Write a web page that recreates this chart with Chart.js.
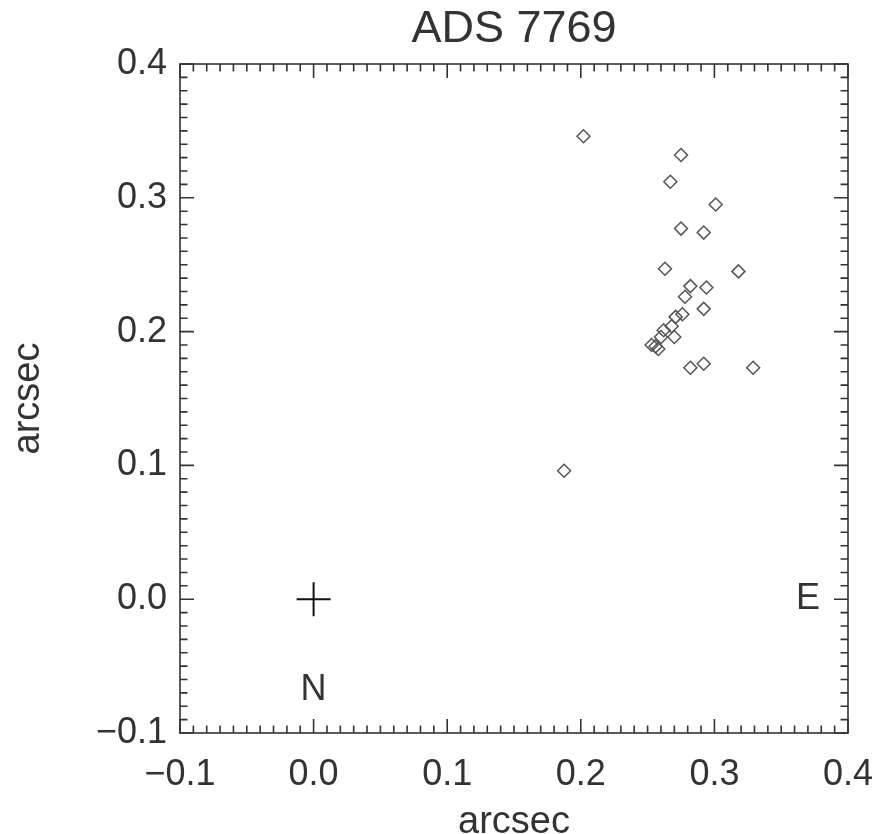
<!DOCTYPE html>
<html>
<head>
<meta charset="utf-8">
<title>ADS 7769</title>
<script src="https://cdn.jsdelivr.net/npm/chart.js@4.4.1/dist/chart.umd.min.js"></script>
<style>
  html, body { margin: 0; padding: 0; background: #fff; }
  #wrap { width: 882px; height: 834px; }
</style>
</head>
<body>
<div id="wrap"><canvas id="orbit" width="882" height="834"></canvas></div>
<script>
// measured positions of the companion (arcsec)
const starX = [0.202, 0.275, 0.267, 0.301, 0.275, 0.292, 0.263, 0.318, 0.282, 0.294,
               0.278, 0.292, 0.276, 0.271, 0.268, 0.262, 0.270, 0.260, 0.253, 0.258,
               0.256, 0.282, 0.292, 0.329, 0.1875];
const starY = [0.346, 0.332, 0.312, 0.295, 0.277, 0.274, 0.247, 0.245, 0.234, 0.233,
               0.226, 0.217, 0.213, 0.211, 0.204, 0.201, 0.196, 0.196, 0.190, 0.187,
               0.189, 0.173, 0.176, 0.173, 0.096];
// primary at origin
const primaryX = [0];
const primaryY = [0];
const tickValues = [-0.1, 0.0, 0.1, 0.2, 0.3, 0.4];
const compass = [{ text: 'N', x: 0.0, y: -0.068 }, { text: 'E', x: 0.37, y: 0.0 }];

const FONT = '"Liberation Sans", "DejaVu Sans", sans-serif';
const INK = '#333';

const fmt = v => (v < 0 ? '\u2212' : '') + Math.abs(v).toFixed(1);
const pts = (xs, ys) => xs.map((x, i) => ({ x: x, y: ys[i] }));

// box, inward ticks on all four sides, title and compass letters
const frame = {
  id: 'frame',
  afterDatasetsDraw(chart) {
    const { ctx, chartArea: a, scales: { x, y } } = chart;
    ctx.save();
    ctx.strokeStyle = '#333';
    ctx.lineWidth = 1.6;
    ctx.strokeRect(a.left, a.top, a.right - a.left, a.bottom - a.top);
    ctx.beginPath();
    for (let i = -10; i <= 40; i++) {
      const len = i % 10 === 0 ? 14 : 7.5;
      const px = x.getPixelForValue(i / 100);
      const py = y.getPixelForValue(i / 100);
      ctx.moveTo(px, a.bottom); ctx.lineTo(px, a.bottom - len);
      ctx.moveTo(px, a.top); ctx.lineTo(px, a.top + len);
      ctx.moveTo(a.left, py); ctx.lineTo(a.left + len, py);
      ctx.moveTo(a.right, py); ctx.lineTo(a.right - len, py);
    }
    ctx.stroke();

    ctx.fillStyle = INK;
    ctx.textAlign = 'center';
    ctx.textBaseline = 'middle';
    ctx.font = '36px ' + FONT;
    compass.forEach(c => {
      ctx.fillText(c.text, x.getPixelForValue(c.x), y.getPixelForValue(c.y));
    });
    ctx.font = '45px ' + FONT;
    ctx.fillText('ADS 7769', (a.left + a.right) / 2, 30);
    ctx.restore();
  }
};

new Chart(document.getElementById('orbit'), {
  type: 'scatter',
  data: {
    datasets: [
      {
        data: pts(starX, starY),
        pointStyle: 'rectRot',
        pointRadius: 6.5,
        pointHoverRadius: 6.5,
        borderColor: '#555',
        borderWidth: 1.5,
        backgroundColor: 'rgba(0,0,0,0)'
      },
      {
        data: pts(primaryX, primaryY),
        pointStyle: 'cross',
        pointRadius: 17,
        pointHoverRadius: 17,
        borderColor: '#111',
        borderWidth: 2
      }
    ]
  },
  options: {
    responsive: false,
    animation: false,
    events: [],
    layout: { padding: { top: 64, right: 34, left: 0, bottom: 0 } },
    plugins: { legend: { display: false }, tooltip: { enabled: false }, title: { display: false } },
    scales: {
      x: {
        type: 'linear', min: -0.1, max: 0.4,
        afterBuildTicks: s => { s.ticks = tickValues.map(v => ({ value: v })); },
        afterFit: s => { s.height = 101; s.paddingLeft = 0; s.paddingRight = 0; },
        grid: { display: false, drawTicks: false },
        border: { display: false },
        ticks: { color: INK, padding: 20, maxRotation: 0, font: { family: FONT, size: 36 }, callback: fmt },
        title: { display: true, text: 'arcsec', color: INK, padding: 0, font: { family: FONT, size: 38, lineHeight: 0.6 } }
      },
      y: {
        type: 'linear', min: -0.1, max: 0.4,
        afterBuildTicks: s => { s.ticks = tickValues.map(v => ({ value: v })); },
        afterFit: s => { s.width = 180; s.paddingTop = 0; s.paddingBottom = 0; },
        grid: { display: false, drawTicks: false },
        border: { display: false },
        ticks: { color: INK, padding: 13, font: { family: FONT, size: 36 }, callback: fmt },
        title: { display: true, text: 'arcsec', color: INK, padding: 6, font: { family: FONT, size: 38, lineHeight: 1.2 } }
      }
    }
  },
  plugins: [frame]
});
</script>
</body>
</html>
